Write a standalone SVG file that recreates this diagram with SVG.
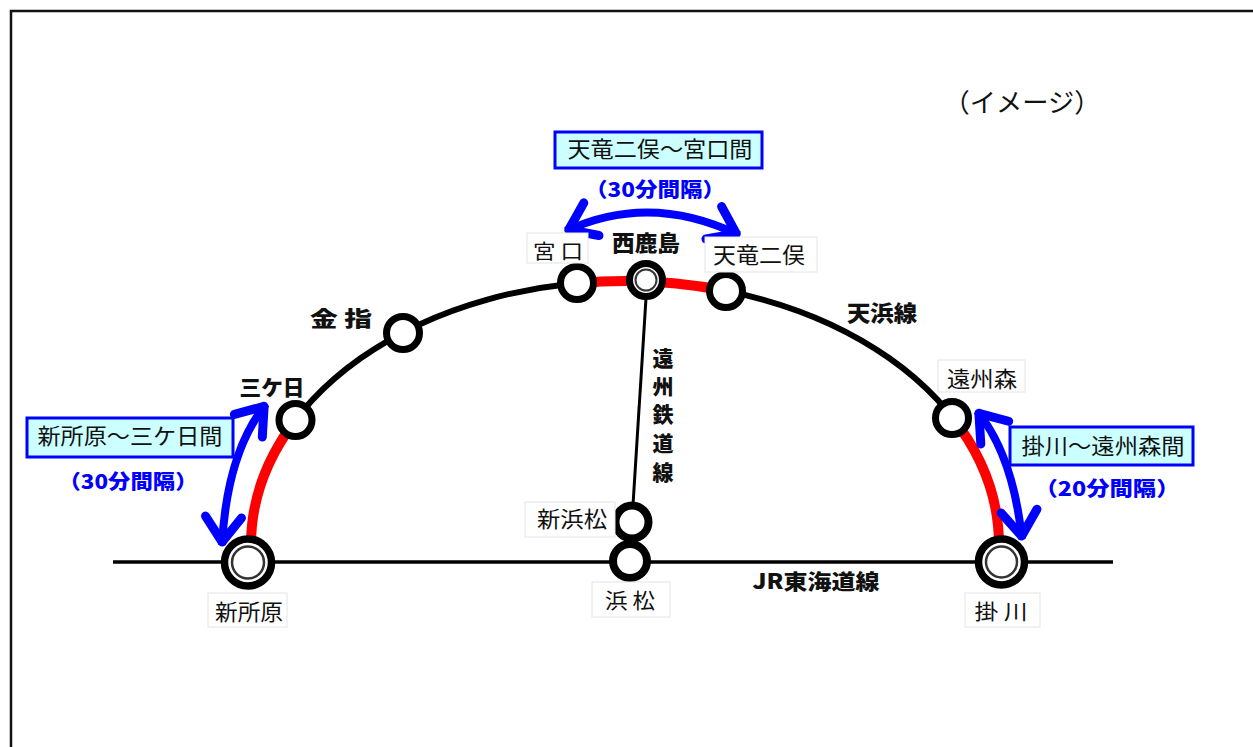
<svg xmlns="http://www.w3.org/2000/svg" width="1253" height="747" viewBox="0 0 1253 747">
<style>
text{font-family:"Noto Sans CJK JP","Noto Sans",sans-serif;fill:#111}
.lbl{font-size:22px}
.b{font-weight:900}
.blue{fill:#0000ff;font-weight:900;font-size:20px}
.st{fill:#fff;stroke:#000;stroke-width:7}
.big{fill:#fff;stroke:#000;stroke-width:7.5}
.ring{fill:none;stroke:#333;stroke-width:2.5}
.lb{fill:#fff;stroke:#e4e4e4;stroke-width:1}
.cy{fill:#ccffff;stroke:#0000ff;stroke-width:3}
.arc{fill:none;stroke:#000;stroke-width:6}
.red{fill:none;stroke:#ff0000;stroke-width:10}
.arr{fill:none;stroke:#0000ff;stroke-width:8;marker-start:url(#ah);marker-end:url(#ah)}
</style>
<defs>
<marker id="ah" markerUnits="userSpaceOnUse" orient="auto-start-reverse" refX="3" refY="0" markerWidth="40" markerHeight="40" overflow="visible">
<path d="M -25 -18 L 0 0 L -25 18" fill="none" stroke="#0000ff" stroke-width="9" stroke-linejoin="round" stroke-linecap="round"/>
</marker>
</defs>
<rect x="0" y="0" width="1253" height="747" fill="#fff"/>
<rect x="11" y="11" width="1270" height="770" fill="none" stroke="#111" stroke-width="2.5"/>

<g id="connectors">
<line x1="113" y1="562" x2="1113" y2="562" stroke="#000" stroke-width="3.5"/>
<path class="arc" d="M 251 563 L 251 545 A 374 264 0 0 1 999 545 L 999 563"/>
<path class="red" d="M 251 560 L 251 545 A 374 264 0 0 1 295.5 420.1"/>
<path class="red" d="M 577 283.2 A 374 264 0 0 1 726 290.8"/>
<path class="red" d="M 952 416.9 A 374 264 0 0 1 999 545 L 999 560"/>
<line x1="646" y1="298" x2="633" y2="505" stroke="#000" stroke-width="3"/>
<path class="arr" d="M 566 231 Q 650 192 739 235"/>
<path class="arr" d="M 222 545 Q 227 452 266 404"/>
<path class="arr" d="M 977 411 Q 1013 455 1022 539"/>
</g>

<g id="image-note">
<text x="1022" y="112" text-anchor="middle" textLength="157" lengthAdjust="spacingAndGlyphs" style="font-size:26px">（イメージ）</text>
</g>

<g id="box-tenryu-miyaguchi">
<rect class="cy" x="555" y="132" width="207" height="36"/>
<text class="lbl" x="660" y="157" text-anchor="middle" textLength="185" lengthAdjust="spacingAndGlyphs">天竜二俣～宮口間</text>
<text class="blue" x="655" y="197" text-anchor="middle" textLength="140" lengthAdjust="spacingAndGlyphs">（30分間隔）</text>
</g>

<g id="box-shinjohara-mikkabi">
<rect class="cy" x="27" y="418" width="206" height="39"/>
<text class="lbl" x="130" y="444" text-anchor="middle" textLength="185" lengthAdjust="spacingAndGlyphs">新所原～三ケ日間</text>
<text class="blue" x="128" y="489" text-anchor="middle" textLength="139" lengthAdjust="spacingAndGlyphs">（30分間隔）</text>
</g>

<g id="box-kakegawa-ensyumori">
<rect class="cy" x="1010" y="427" width="183" height="38"/>
<text class="lbl" x="1103" y="454" text-anchor="middle" textLength="163" lengthAdjust="spacingAndGlyphs">掛川～遠州森間</text>
<text class="blue" x="1107" y="496" text-anchor="middle" textLength="145" lengthAdjust="spacingAndGlyphs">（20分間隔）</text>
</g>

<g id="line-labels">
<text class="lbl b" x="882" y="321" text-anchor="middle" textLength="70" lengthAdjust="spacingAndGlyphs">天浜線</text>
<text class="lbl b" x="816" y="589" text-anchor="middle" textLength="127" lengthAdjust="spacingAndGlyphs" style="font-size:21px">JR東海道線</text>
<text class="lbl b" text-anchor="middle" style="font-size:21px"><tspan x="663" y="366">遠</tspan><tspan x="663" y="394">州</tspan><tspan x="663" y="422">鉄</tspan><tspan x="663" y="451">道</tspan><tspan x="663" y="480">線</tspan></text>
</g>

<g id="st-shinjohara">
<circle class="big" cx="248" cy="562.5" r="23.5"/>
<circle class="ring" cx="248" cy="562.5" r="16"/>
<rect class="lb" x="208" y="593" width="79" height="34"/>
<text class="lbl" x="249" y="620" text-anchor="middle" textLength="68" lengthAdjust="spacingAndGlyphs">新所原</text>
</g>

<g id="st-mikkabi">
<circle class="st" cx="295.5" cy="420" r="16.5"/>
<text class="lbl b" x="272" y="395" text-anchor="middle" textLength="65" lengthAdjust="spacingAndGlyphs" style="font-size:21px">三ケ日</text>
</g>

<g id="st-kanasashi">
<circle class="st" cx="403" cy="333" r="16.5"/>
<text class="lbl b" x="341" y="326" text-anchor="middle" textLength="62" lengthAdjust="spacingAndGlyphs" style="font-size:21px">金 指</text>
</g>

<g id="st-miyaguchi">
<circle class="st" cx="577" cy="283" r="16.5"/>
<rect class="lb" x="527" y="233" width="61" height="30"/>
<text class="lbl" x="558" y="259" text-anchor="middle" textLength="50" lengthAdjust="spacingAndGlyphs" style="font-size:20px">宮 口</text>
</g>

<g id="st-nishikajima">
<circle class="st" cx="646" cy="280" r="16.5"/>
<circle class="ring" cx="646" cy="280" r="10.5" style="stroke-width:2"/>
<text class="lbl b" x="646" y="251" text-anchor="middle" textLength="68" lengthAdjust="spacingAndGlyphs">西鹿島</text>
</g>

<g id="st-tenryufutamata">
<circle class="st" cx="726" cy="291" r="16.5"/>
<rect class="lb" x="705" y="237" width="112" height="35"/>
<text class="lbl" x="759" y="263" text-anchor="middle" textLength="92" lengthAdjust="spacingAndGlyphs">天竜二俣</text>
</g>

<g id="st-ensyumori">
<circle class="st" cx="952" cy="418" r="16.5"/>
<rect class="lb" x="938" y="360" width="87" height="32"/>
<text class="lbl" x="982" y="387" text-anchor="middle" textLength="70" lengthAdjust="spacingAndGlyphs">遠州森</text>
</g>

<g id="st-kakegawa">
<circle class="big" cx="1001.5" cy="562" r="23"/>
<circle class="ring" cx="1001.5" cy="562" r="15.5"/>
<rect class="lb" x="965" y="593" width="75" height="34"/>
<text class="lbl" x="1001" y="619" text-anchor="middle" textLength="53" lengthAdjust="spacingAndGlyphs" style="font-size:21px">掛 川</text>
</g>

<g id="st-shinhamamatsu">
<circle class="st" cx="632" cy="522" r="16.5" style="stroke-width:8"/>
<rect class="lb" x="525" y="502" width="90" height="35"/>
<text class="lbl" x="572" y="527" text-anchor="middle" textLength="70" lengthAdjust="spacingAndGlyphs">新浜松</text>
</g>

<g id="st-hamamatsu">
<circle class="st" cx="630" cy="561" r="17" style="stroke-width:8"/>
<rect class="lb" x="592" y="582" width="78" height="35"/>
<text class="lbl" x="630" y="608" text-anchor="middle" textLength="50" lengthAdjust="spacingAndGlyphs" style="font-size:21px">浜 松</text>
</g>
</svg>
